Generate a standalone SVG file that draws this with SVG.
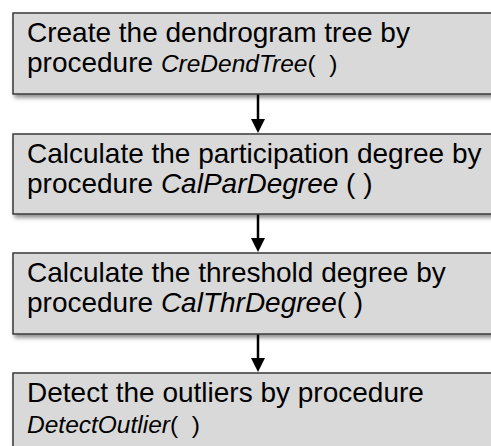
<svg xmlns="http://www.w3.org/2000/svg" width="491" height="446" viewBox="0 0 491 446">
  <defs>
    <filter id="sh" x="-10%" y="-20%" width="130%" height="160%">
      <feDropShadow dx="2" dy="3" stdDeviation="2" flood-color="#000" flood-opacity="0.45"/>
    </filter>
    <style>
      .box { fill: #d9d9d9; stroke: #3a3a3a; stroke-width: 1.5; filter: url(#sh); }
      .t { font-family: "Liberation Sans", Arial, sans-serif; font-size: 28px; fill: #000; }
      .i { font-style: italic; }
      .s { font-size: 24.5px; }
      .p { white-space: pre; }
      .c { stroke: #000; stroke-width: 2.5; fill: none; }
    </style>
  </defs>
  <g id="connectors">
    <line class="c" x1="258" y1="94" x2="258" y2="119"/>
    <path d="M251,119 L265,119 L258,133 Z" fill="#000"/>
    <line class="c" x1="258" y1="214" x2="258" y2="238"/>
    <path d="M251,238 L265,238 L258,252 Z" fill="#000"/>
    <line class="c" x1="258" y1="334" x2="258" y2="358"/>
    <path d="M251,358 L265,358 L258,372 Z" fill="#000"/>
  </g>
  <g id="node1">
    <rect class="box" x="13" y="13" width="500" height="81"/>
    <text class="t" x="27" y="42">Create the dendrogram tree by</text>
    <text class="t p" x="27" y="72">procedure <tspan class="i s">CreDendTree</tspan><tspan class="s">(  )</tspan></text>
  </g>
  <g id="node2">
    <rect class="box" x="13" y="134" width="500" height="80"/>
    <text class="t" x="27" y="163">Calculate the participation degree by</text>
    <text class="t" x="27" y="193">procedure <tspan class="i">CalParDegree</tspan> ( )</text>
  </g>
  <g id="node3">
    <rect class="box" x="13" y="253" width="500" height="81"/>
    <text class="t" x="27" y="282">Calculate the threshold degree by</text>
    <text class="t" x="27" y="312">procedure <tspan class="i">CalThrDegree</tspan>( )</text>
  </g>
  <g id="node4">
    <rect class="box" x="13" y="373" width="500" height="90"/>
    <text class="t" x="27" y="402">Detect the outliers by procedure</text>
    <text class="t s p" x="27" y="433"><tspan class="i">DetectOutlier</tspan>(  )</text>
  </g>
</svg>
